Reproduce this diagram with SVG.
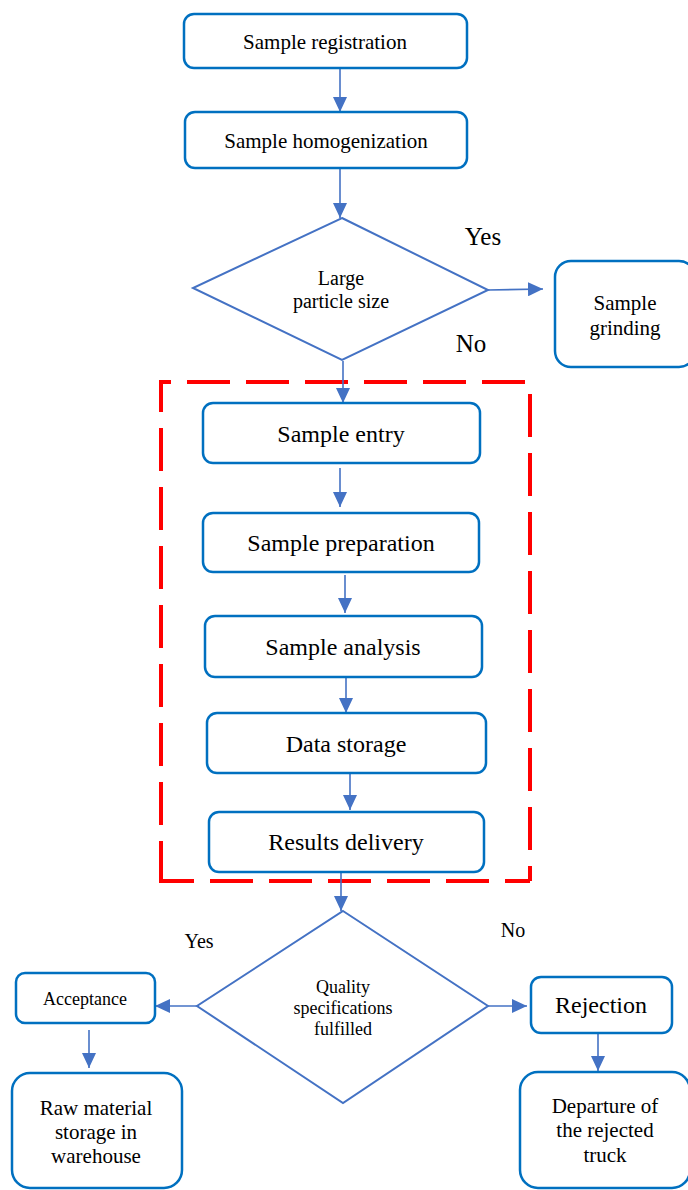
<svg xmlns="http://www.w3.org/2000/svg" width="688" height="1190" viewBox="0 0 688 1190">
<style>
.box{fill:#fff;stroke:#0070C0;stroke-width:2.5}
.dia{fill:#fff;stroke:#4472C4;stroke-width:2}
.con{stroke:#4472C4;stroke-width:1.6;fill:none;marker-end:url(#ah)}
.dash{fill:none;stroke:#FF0000;stroke-width:4;stroke-dasharray:43 16}
text{font-family:"Liberation Serif","Times New Roman",serif;fill:#000;text-anchor:middle}
</style>
<defs>
<marker id="ah" markerUnits="userSpaceOnUse" markerWidth="16" markerHeight="14" refX="15" refY="7" orient="auto">
<path d="M0,0 L15,7 L0,14 Z" fill="#4472C4"/>
</marker>
</defs>
<rect width="688" height="1190" fill="#fff"/>
<g id="group-box">
<path class="dash" d="M159,382 H530" stroke-dashoffset="31"/>
<path class="dash" d="M530,382 V881" stroke-dashoffset="47"/>
<path class="dash" d="M159,881 H530" stroke-dashoffset="8"/>
<path class="dash" d="M161,380 V883" stroke-dashoffset="11"/>
</g>
<g id="connectors">
<line class="con" x1="340" y1="69" x2="340" y2="112"/>
<line class="con" x1="340" y1="168" x2="340" y2="218"/>
<line class="con" x1="488" y1="290" x2="543" y2="289"/>
<line class="con" x1="343" y1="361" x2="343" y2="403"/>
<line class="con" x1="340" y1="468" x2="340" y2="507"/>
<line class="con" x1="345" y1="575" x2="345" y2="613"/>
<line class="con" x1="346" y1="677" x2="346" y2="713"/>
<line class="con" x1="350" y1="773" x2="350" y2="810"/>
<line class="con" x1="341" y1="872" x2="341" y2="911"/>
<line class="con" x1="197" y1="1006" x2="155" y2="1006"/>
<line class="con" x1="488" y1="1006" x2="527" y2="1006"/>
<line class="con" x1="89" y1="1030" x2="89" y2="1068"/>
<line class="con" x1="598" y1="1033" x2="598" y2="1071"/>
</g>
<g id="n-registration">
<rect class="box" x="184" y="14" width="283" height="54" rx="10"/>
<text x="325" y="49" font-size="21">Sample registration</text>
</g>
<g id="n-homogenization">
<rect class="box" x="185" y="112" width="282" height="56" rx="10"/>
<text x="326" y="148" font-size="21">Sample homogenization</text>
</g>
<g id="n-particle">
<polygon class="dia" points="342,218 488,290 342,360 193,288"/>
<text x="341" y="285" font-size="20">Large</text>
<text x="341" y="308" font-size="20">particle size</text>
</g>
<g id="n-grinding">
<rect class="box" x="555" y="261" width="140" height="106" rx="16"/>
<text x="625" y="310" font-size="21">Sample</text>
<text x="625" y="335" font-size="21">grinding</text>
</g>
<g id="labels-top">
<text x="483" y="245" font-size="25">Yes</text>
<text x="471" y="352" font-size="25">No</text>
</g>
<g id="n-entry">
<rect class="box" x="203" y="403" width="277" height="60" rx="10"/>
<text x="341" y="442" font-size="24">Sample entry</text>
</g>
<g id="n-preparation">
<rect class="box" x="203" y="513" width="276" height="59" rx="10"/>
<text x="341" y="551" font-size="24">Sample preparation</text>
</g>
<g id="n-analysis">
<rect class="box" x="205" y="616" width="277" height="61" rx="10"/>
<text x="343" y="655" font-size="24">Sample analysis</text>
</g>
<g id="n-storage">
<rect class="box" x="207" y="713" width="279" height="60" rx="10"/>
<text x="346" y="752" font-size="24">Data storage</text>
</g>
<g id="n-results">
<rect class="box" x="209" y="812" width="275" height="60" rx="10"/>
<text x="346" y="850" font-size="24">Results delivery</text>
</g>
<g id="n-quality">
<polygon class="dia" points="343,911 488,1006 343,1103 197,1006"/>
<text x="343" y="993" font-size="18">Quality</text>
<text x="343" y="1014" font-size="18">specifications</text>
<text x="343" y="1035" font-size="18">fulfilled</text>
</g>
<g id="labels-bottom">
<text x="199" y="948" font-size="20">Yes</text>
<text x="513" y="937" font-size="20">No</text>
</g>
<g id="n-acceptance">
<rect class="box" x="16" y="973" width="139" height="50" rx="9"/>
<text x="85" y="1005" font-size="18">Acceptance</text>
</g>
<g id="n-warehouse">
<rect class="box" x="12" y="1073" width="170" height="115" rx="18"/>
<text x="96" y="1115" font-size="21">Raw material</text>
<text x="96" y="1139" font-size="21">storage in</text>
<text x="96" y="1163" font-size="21">warehouse</text>
</g>
<g id="n-rejection">
<rect class="box" x="531" y="977" width="141" height="56" rx="10"/>
<text x="601" y="1013" font-size="24">Rejection</text>
</g>
<g id="n-departure">
<rect class="box" x="520" y="1072" width="170" height="116" rx="18"/>
<text x="605" y="1113" font-size="21">Departure of</text>
<text x="605" y="1137" font-size="21">the rejected</text>
<text x="605" y="1162" font-size="21">truck</text>
</g>
</svg>
